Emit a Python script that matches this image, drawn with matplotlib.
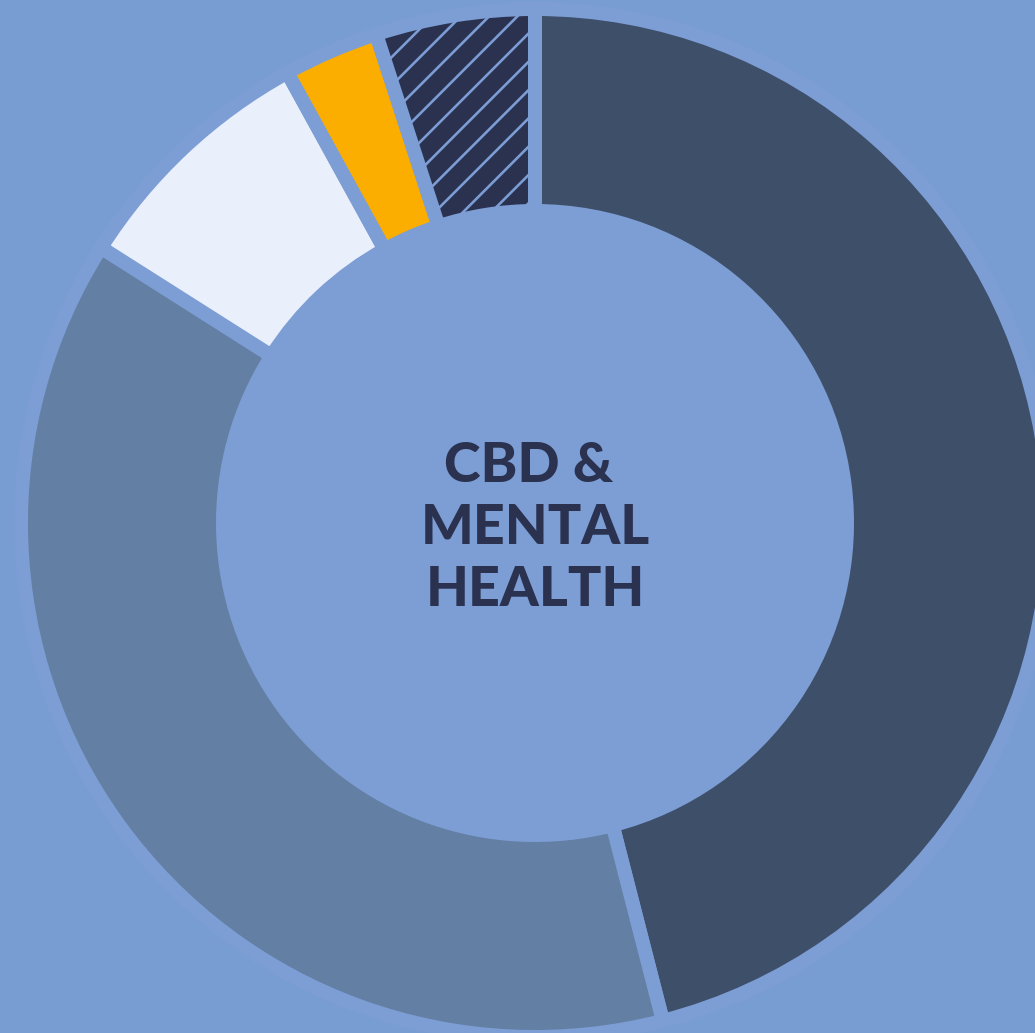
import numpy as np
import matplotlib.pyplot as plt

# share of each slice, clockwise from 12 o'clock
shares = [46, 38, 8, 3, 5]
colors = ['#3e5069', '#637fa3', '#e9effb', '#fbae00', '#2a3250']
striped = [False, False, False, False, True]
title = 'CBD & \nMENTAL\nHEALTH'

bg = '#789dd3'
gap = '#7d9dd5'

DPI = 172.5
W, H = 1035, 1033

fig = plt.figure(figsize=(W / DPI, H / DPI), dpi=DPI, facecolor=bg)
ax = fig.add_axes([0, 0, 1, 1])
ax.set_facecolor(bg)

cx, cy = 535, H - 523
r_out, r_in = 514, 312
lw = 14 * 72 / DPI

wedges, _ = ax.pie(shares, colors=colors, startangle=90, counterclock=False,
                   center=(cx, cy), radius=r_out,
                   wedgeprops=dict(width=r_out - r_in, edgecolor=gap,
                                   linewidth=lw))

# diagonal stripes, clipped to their wedge
step = 28.3
xs = np.array([cx - r_out, cx + r_out])
for w, s in zip(wedges, striped):
    if not s:
        continue
    for c in np.arange(471 - 40 * step, 471 + 40 * step, step):
        ln, = ax.plot(xs, xs + c, color=gap, lw=2.6 * 72 / DPI, zorder=3,
                      solid_capstyle='butt')
        ln.set_clip_path(w)

# hole of the donut
ax.add_patch(plt.Circle((cx, cy), r_in - lw * DPI / 144, color=gap, zorder=0))

ax.text(cx, H - 528, title, ha='center', va='center', color='#2a3250',
        fontsize=23.2, fontweight='black', family=['Lato', 'DejaVu Sans'],
        linespacing=1.29)

ax.set_xlim(0, W)
ax.set_ylim(0, H)
ax.set_aspect('equal')
ax.axis('off')

fig.savefig('out.png', dpi=DPI, facecolor=bg)
